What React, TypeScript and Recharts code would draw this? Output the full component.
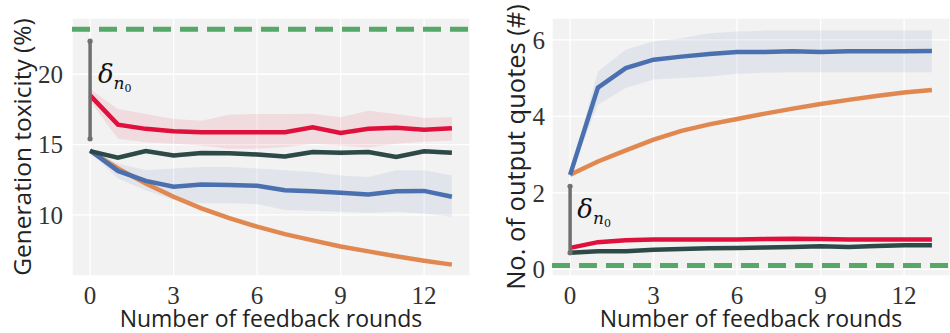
import React from 'react';
import { ComposedChart, Line, Area, XAxis, YAxis, CartesianGrid, ReferenceLine, ReferenceDot } from 'recharts';

const rounds = [0, 1, 2, 3, 4, 5, 6, 7, 8, 9, 10, 11, 12, 13];
const xTicks = [0, 3, 6, 9, 12];

// Left: generation toxicity (%)
const toxRed = [18.5, 16.42, 16.12, 15.95, 15.88, 15.88, 15.88, 15.88, 16.23, 15.83, 16.12, 16.2, 16.05, 16.16];
const toxRedLo = [18.1, 15.41, 15.17, 15.06, 14.94, 14.7, 14.7, 14.82, 15.06, 14.94, 14.8, 15.06, 15.2, 15.3];
const toxRedHi = [18.94, 17.53, 17.18, 16.82, 16.7, 17.13, 17.18, 17.18, 17.2, 16.94, 17.4, 17.18, 16.9, 16.94];
const toxDark = [14.54, 14.07, 14.54, 14.23, 14.4, 14.38, 14.3, 14.16, 14.47, 14.42, 14.47, 14.12, 14.52, 14.42];
const toxDarkLo = [14.44, 13.92, 14.39, 14.08, 14.25, 14.23, 14.15, 14.0, 14.3, 14.22, 14.3, 13.97, 14.37, 14.27];
const toxDarkHi = [14.64, 14.22, 14.69, 14.38, 14.55, 14.53, 14.45, 14.31, 14.62, 14.6, 14.62, 14.27, 14.67, 14.57];
const toxBlue = [14.59, 13.13, 12.42, 12.0, 12.17, 12.12, 12.07, 11.76, 11.69, 11.57, 11.46, 11.69, 11.71, 11.29];
const toxBlueLo = [14.5, 12.59, 11.76, 11.06, 10.83, 10.83, 10.78, 10.35, 10.3, 10.23, 10.16, 10.23, 10.1, 9.88];
const toxBlueHi = [14.68, 13.65, 13.18, 13.3, 13.4, 13.4, 13.3, 13.18, 13.06, 12.8, 12.7, 13.18, 13.18, 12.8];
const toxOrange = [14.55, 13.3, 12.24, 11.29, 10.47, 9.77, 9.17, 8.64, 8.19, 7.76, 7.41, 7.06, 6.75, 6.47];
const toxRef = 23.2;
const toxTicks = [10, 15, 20];
const toxDelta = [22.35, 15.41];

// Right: number of output quotes (#)
const qBlue = [2.47, 4.75, 5.26, 5.48, 5.56, 5.63, 5.68, 5.68, 5.7, 5.68, 5.7, 5.7, 5.7, 5.71];
const qBlueLo = [2.44, 4.3, 4.74, 4.96, 5.0, 5.04, 5.11, 5.14, 5.15, 5.15, 5.15, 5.15, 5.15, 5.15];
const qBlueHi = [2.5, 5.17, 5.74, 5.96, 6.04, 6.17, 6.22, 6.24, 6.24, 6.24, 6.24, 6.24, 6.24, 6.24];
const qOrange = [2.47, 2.82, 3.11, 3.39, 3.62, 3.79, 3.93, 4.07, 4.2, 4.32, 4.43, 4.53, 4.62, 4.69];
const qRed = [0.56, 0.71, 0.76, 0.78, 0.78, 0.78, 0.78, 0.79, 0.8, 0.79, 0.78, 0.78, 0.78, 0.78];
const qDark = [0.43, 0.47, 0.47, 0.51, 0.53, 0.55, 0.56, 0.57, 0.58, 0.6, 0.58, 0.61, 0.63, 0.63];
const qRef = 0.1;
const qTicks = [0, 2, 4, 6];
const qDelta = [2.17, 0.43];

const RED = '#e0103c';
const DARK = '#2e4a48';
const BLUE = '#4a70b0';
const ORANGE = '#e08850';
const GREEN = '#55a868';
const GRAY = '#707070';
const BG = '#f2f2f2';

const toxData = rounds.map((r, i) => ({
  r,
  red: toxRed[i], redBand: [toxRedLo[i], toxRedHi[i]],
  dark: toxDark[i], darkBand: [toxDarkLo[i], toxDarkHi[i]],
  blue: toxBlue[i], blueBand: [toxBlueLo[i], toxBlueHi[i]],
  orange: toxOrange[i],
}));

const qData = rounds.map((r, i) => ({
  r,
  blue: qBlue[i], blueBand: [qBlueLo[i], qBlueHi[i]],
  orange: qOrange[i],
  red: qRed[i],
  dark: qDark[i],
}));

const tickStyle = { fontFamily: 'Liberation Serif', fontSize: 25, fill: '#333' };
const labelFont = 'Open Sans';

const DeltaText = (props: any) => (
  <text x={props.cx} y={props.cy} style={{ fontFamily: 'DejaVu Serif', fill: '#111' }}>
    <tspan fontStyle="italic" fontSize={26}>δ</tspan>
    <tspan fontStyle="italic" fontSize={17} dy={6}>n</tspan>
    <tspan fontSize={11} dy={3}>0</tspan>
  </text>
);

const EndDot = (props: any) => <circle cx={props.cx} cy={props.cy} r={2.6} fill={GRAY} />;

const YLabel = (text: string, cx: number, size: number) => (props: any) => {
  const vb = props.viewBox;
  const cy = 147;
  return (
    <text x={cx} y={cy} transform={`rotate(-90 ${cx} ${cy})`} textAnchor="middle" dominantBaseline="central"
      style={{ fontFamily: labelFont, fontSize: `${size}px`, fill: '#222' }}>{text}</text>
  );
};

const XLabel = (props: any) => {
  const vb = props.viewBox;
  return (
    <text x={vb.x + vb.width / 2} y={327} textAnchor="middle"
      style={{ fontFamily: labelFont, fontSize: '23px', fill: '#222' }}>
      Number of feedback rounds
    </text>
  );
};

const LW = 4.5;

export default function App() {
  return (
    <div style={{ position: 'absolute', left: 0, top: 0, width: 950, height: 333, background: '#fff' }}>
      <div style={{ position: 'absolute', left: 0, top: 0 }}>
        <ComposedChart width={475} height={333} data={toxData} margin={{ top: 18, right: 5, bottom: 27, left: 0 }}>
          <CartesianGrid fill={BG} stroke="#ffffff" strokeWidth={1.3} />
          <XAxis dataKey="r" type="number" domain={[-0.65, 13.65]} ticks={xTicks} axisLine={false} tickLine={false}
            tickSize={6} tickMargin={4} height={30} tick={tickStyle} label={<XLabel />} allowDataOverflow />
          <YAxis type="number" domain={[5.66, 24.0]} ticks={toxTicks} axisLine={false} tickLine={false}
            tickSize={6} tickMargin={3} width={72} tick={tickStyle} label={{ content: YLabel('Generation toxicity (%)', 21, 24.5) } as any} allowDataOverflow />
          <Area dataKey="redBand" stroke="none" fill={RED} fillOpacity={0.1} isAnimationActive={false} />
          <Area dataKey="darkBand" stroke="none" fill={DARK} fillOpacity={0.1} isAnimationActive={false} />
          <Area dataKey="blueBand" stroke="none" fill={BLUE} fillOpacity={0.1} isAnimationActive={false} />
          <ReferenceLine y={toxRef} stroke={GREEN} strokeWidth={5} strokeDasharray="18 9" />
          <Line dataKey="orange" stroke={ORANGE} strokeWidth={LW} dot={false} isAnimationActive={false} />
          <Line dataKey="blue" stroke={BLUE} strokeWidth={LW} dot={false} isAnimationActive={false} />
          <Line dataKey="dark" stroke={DARK} strokeWidth={LW} dot={false} isAnimationActive={false} />
          <Line dataKey="red" stroke={RED} strokeWidth={LW} dot={false} isAnimationActive={false} />
          <ReferenceLine segment={[{ x: 0, y: toxDelta[0] }, { x: 0, y: toxDelta[1] }]} stroke={GRAY} strokeWidth={3.5} />
          <ReferenceDot x={0} y={toxDelta[0]} shape={EndDot} />
          <ReferenceDot x={0} y={toxDelta[1]} shape={EndDot} />
          <ReferenceDot x={0.28} y={19.39} shape={DeltaText} />
        </ComposedChart>
      </div>
      <div style={{ position: 'absolute', left: 475, top: 0 }}>
        <ComposedChart width={475} height={333} data={qData} margin={{ top: 18, right: 0, bottom: 27, left: 0 }}>
          <CartesianGrid fill={BG} stroke="#ffffff" strokeWidth={1.3} />
          <XAxis dataKey="r" type="number" domain={[-0.65, 13.65]} ticks={xTicks} axisLine={false} tickLine={false}
            tickSize={6} tickMargin={4} height={30} tick={tickStyle} label={<XLabel />} allowDataOverflow />
          <YAxis type="number" domain={[-0.175, 6.57]} ticks={qTicks} axisLine={false} tickLine={false}
            tickSize={4} tickMargin={3} width={77} tick={tickStyle} label={{ content: YLabel('No. of output quotes (#)', 40, 25.5) } as any} allowDataOverflow />
          <Area dataKey="blueBand" stroke="none" fill={BLUE} fillOpacity={0.1} isAnimationActive={false} />
          <ReferenceLine y={qRef} stroke={GREEN} strokeWidth={5} strokeDasharray="18 9" />
          <Line dataKey="orange" stroke={ORANGE} strokeWidth={LW} dot={false} isAnimationActive={false} />
          <Line dataKey="blue" stroke={BLUE} strokeWidth={LW} dot={false} isAnimationActive={false} />
          <Line dataKey="dark" stroke={DARK} strokeWidth={LW} dot={false} isAnimationActive={false} />
          <Line dataKey="red" stroke={RED} strokeWidth={LW} dot={false} isAnimationActive={false} />
          <ReferenceLine segment={[{ x: 0, y: qDelta[0] }, { x: 0, y: qDelta[1] }]} stroke={GRAY} strokeWidth={3.5} />
          <ReferenceDot x={0} y={qDelta[0]} shape={EndDot} />
          <ReferenceDot x={0} y={qDelta[1]} shape={EndDot} />
          <ReferenceDot x={0.26} y={1.35} shape={DeltaText} />
        </ComposedChart>
      </div>
    </div>
  );
}
